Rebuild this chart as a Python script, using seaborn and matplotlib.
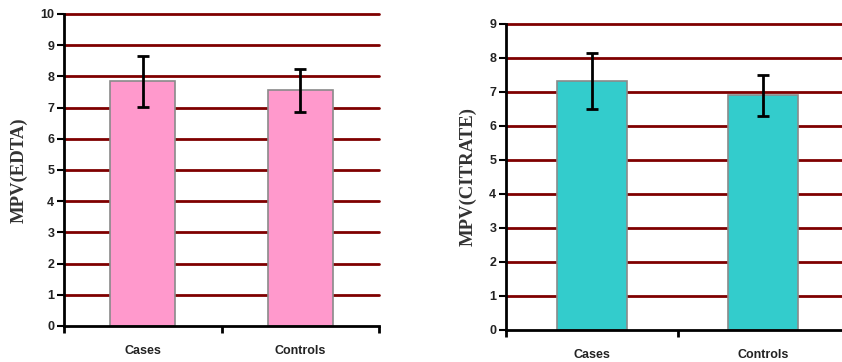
import matplotlib
matplotlib.use("Agg")
import matplotlib.pyplot as plt
import seaborn as sns
import pandas as pd
from matplotlib.ticker import FixedLocator

categories = ["Cases", "Controls"]
edta_means = [7.84, 7.55]
edta_sd = [0.82, 0.68]
citrate_means = [7.33, 6.90]
citrate_sd = [0.82, 0.61]
edta_ticks = list(range(0, 11))
citrate_ticks = list(range(0, 10))

sns.set_style("white")
plt.rcParams['font.family'] = ['Liberation Sans', 'DejaVu Sans']

fig = plt.figure(figsize=(8.42, 3.62), dpi=100)
W, H = 842, 362
ax1 = fig.add_axes([64 / W, 1 - 326 / H, 315 / W, 312 / H])
ax2 = fig.add_axes([506 / W, 1 - 330 / H, 343 / W, 306 / H])

grid_col = "#7f0000"


def draw(ax, means, sds, color, ticks, ylabel):
    df = pd.DataFrame({"group": categories, "value": means})
    sns.barplot(data=df, x="group", y="value", ax=ax, color=color,
                width=0.41, edgecolor="#8a8a8a", linewidth=1.2,
                saturation=1, errorbar=None, zorder=3)
    ax.errorbar(x=list(range(len(categories))), y=means, yerr=sds, fmt="none",
                ecolor="black", elinewidth=2, capsize=4, capthick=2, zorder=4)
    ax.set_xlim(-0.5, len(categories) - 0.5)
    ax.set_ylim(0, ticks[-1])
    ax.set_yticks(ticks)
    ax.set_yticklabels([str(t) for t in ticks], fontsize=9, fontweight="bold",
                       color="#222222")
    for t in ticks[1:]:
        ax.axhline(t, color=grid_col, linewidth=2, zorder=1, clip_on=False)
    ax.set_xticks(range(len(categories)))
    ax.set_xticklabels(categories, fontsize=9, fontweight="bold", color="#222222")
    ax.tick_params(axis="x", which="major", length=0, pad=14)
    ax.xaxis.set_minor_locator(FixedLocator([-0.5, 0.5, 1.5]))
    ax.tick_params(axis="x", which="minor", length=5, width=2, direction="out",
                   bottom=True, color="black")
    ax.tick_params(axis="y", which="major", length=5, width=1.5, direction="out",
                   left=True, pad=2, color="black")
    for s in ["top", "right"]:
        ax.spines[s].set_visible(False)
    for s in ["left", "bottom"]:
        ax.spines[s].set_color("black")
        ax.spines[s].set_linewidth(2)
        ax.spines[s].set_zorder(5)
    ax.set_xlabel("")
    ax.set_ylabel(ylabel, fontsize=13.5, fontweight="bold",
                  family=["Liberation Serif", "DejaVu Serif"], color="#333333",
                  labelpad=9)


draw(ax1, edta_means, edta_sd, "#ff99cc", edta_ticks, "MPV(EDTA)")
draw(ax2, citrate_means, citrate_sd, "#33cccc", citrate_ticks, "MPV(CITRATE)")

fig.savefig("out.png", dpi=100)
